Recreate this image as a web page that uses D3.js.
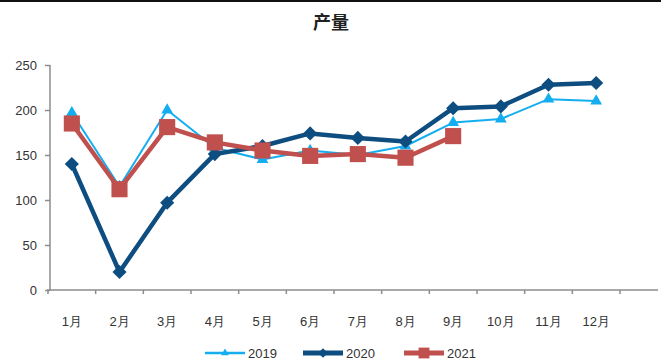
<!DOCTYPE html>
<html>
<head>
<meta charset="utf-8">
<script src="https://cdn.jsdelivr.net/npm/d3@7"></script>
<style>
  body { margin: 0; background: #fff; }
  svg { display: block; font-family: "Liberation Sans", "Noto Sans CJK SC", sans-serif; }
</style>
</head>
<body>
<svg id="chart"></svg>
<script>
const months = ["1月", "2月", "3月", "4月", "5月", "6月", "7月", "8月", "9月", "10月", "11月", "12月"];
const s2019 = [197, 115, 200, 158, 145, 155, 150, 160, 186, 190, 212, 210];
const s2020 = [140, 20, 97, 151, 160, 174, 169, 165, 202, 204, 228, 230];
const s2021 = [185, 112, 181, 164, 155, 149, 151, 147, 171];
const yTicks = [0, 50, 100, 150, 200, 250];

const width = 661;
const height = 360;
const marginLeft = 48;
const marginTop = 65;
const axisY = 290;
const plotRight = 620;

const svg = d3.select("#chart")
    .attr("width", width)
    .attr("height", height);

// top border strip
svg.append("rect")
    .attr("x", 0).attr("y", 0)
    .attr("width", width).attr("height", 2)
    .attr("fill", "#111");

svg.append("text")
    .attr("x", 331)
    .attr("y", 29)
    .attr("text-anchor", "middle")
    .attr("font-size", 18)
    .attr("font-weight", "bold")
    .attr("fill", "#222")
    .text("产量");

const x = d3.scaleBand()
    .domain(months)
    .range([marginLeft, plotRight]);

const y = d3.scaleLinear()
    .domain([0, 250])
    .range([axisY, marginTop]);

// x axis
svg.append("g")
    .attr("transform", `translate(0,${axisY})`)
    .call(d3.axisBottom(x).tickSize(0).tickPadding(0))
    .call(g => g.select(".domain").remove())
    .call(g => g.selectAll(".tick text")
        .attr("y", 36)
        .attr("dy", 0)
        .attr("font-size", 13)
        .attr("fill", "#333"));

svg.append("line")
    .attr("x1", marginLeft - 1).attr("x2", 658)
    .attr("y1", axisY).attr("y2", axisY)
    .attr("stroke", "#8c8c8c").attr("stroke-width", 1.5);

svg.append("g")
    .selectAll("line")
    .data(months.concat(["end"]))
    .join("line")
    .attr("x1", (d, i) => marginLeft + i * x.step())
    .attr("x2", (d, i) => marginLeft + i * x.step())
    .attr("y1", axisY)
    .attr("y2", axisY + 4)
    .attr("stroke", "#8c8c8c")
    .attr("stroke-width", 1.5);

// y axis
svg.append("g")
    .attr("transform", `translate(${marginLeft + 2},0)`)
    .call(d3.axisLeft(y).tickValues(yTicks).tickSize(5).tickPadding(8))
    .call(g => g.select(".domain").attr("stroke", "#8c8c8c").attr("stroke-width", 1.5)
        .attr("d", `M0,${y(250)}V${axisY}`))
    .call(g => g.selectAll(".tick line").attr("stroke", "#8c8c8c").attr("stroke-width", 1.5))
    .call(g => g.selectAll(".tick text")
        .attr("font-size", 13)
        .attr("fill", "#333"));

const cx = i => x(months[i]) + x.bandwidth() / 2;

const line = d3.line()
    .x((d, i) => cx(i))
    .y(d => y(d));

// diamond = square turned 45 degrees
const series = [
    { name: "2019", values: s2019, color: "#14aef0", width: 2, marker: d3.symbolTriangle, size: 60, rot: 0 },
    { name: "2020", values: s2020, color: "#0e4d80", width: 4.5, marker: d3.symbolSquare, size: 100, rot: 45 },
    { name: "2021", values: s2021, color: "#c0504d", width: 4.5, marker: d3.symbolSquare, size: 260, rot: 0 }
];

series.forEach(s => {
    svg.append("path")
        .attr("fill", "none")
        .attr("stroke", s.color)
        .attr("stroke-width", s.width)
        .attr("stroke-linejoin", "round")
        .attr("d", line(s.values));

    svg.append("g")
        .selectAll("path")
        .data(s.values)
        .join("path")
        .attr("transform", (d, i) => `translate(${cx(i)},${y(d)}) rotate(${s.rot})`)
        .attr("d", d3.symbol().type(s.marker).size(s.size))
        .attr("fill", s.color);
});

// legend
const legendX = [205, 303, 404];
const legendY = 353;
series.forEach((s, i) => {
    const g = svg.append("g").attr("transform", `translate(${legendX[i]},${legendY})`);
    g.append("line")
        .attr("x1", 0).attr("x2", 40)
        .attr("y1", 0).attr("y2", 0)
        .attr("stroke", s.color)
        .attr("stroke-width", s.width + 0.5);
    g.append("path")
        .attr("transform", `translate(20,0) rotate(${s.rot})`)
        .attr("d", d3.symbol().type(s.marker).size(s.size * 0.45))
        .attr("fill", s.color);
    g.append("text")
        .attr("x", 43)
        .attr("y", 5)
        .attr("font-size", 13)
        .attr("fill", "#333")
        .text(s.name);
});
</script>
</body>
</html>
